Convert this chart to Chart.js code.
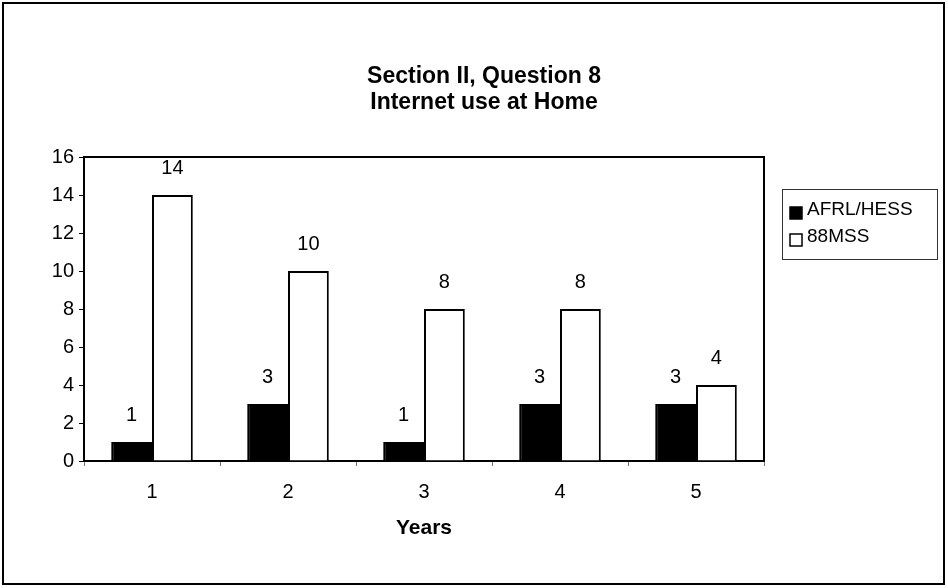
<!DOCTYPE html>
<html>
<head>
<meta charset="utf-8">
<script src="https://cdn.jsdelivr.net/npm/chart.js@4"></script>
<style>
  html, body { margin: 0; padding: 0; background: #fff; }
  #wrap { width: 948px; height: 588px; }
</style>
</head>
<body>
<div id="wrap"><canvas id="chart" width="948" height="588"></canvas></div>
<script>
const years = ["1", "2", "3", "4", "5"];
const afrlHess = [1, 3, 1, 3, 3];
const mss88 = [14, 10, 8, 8, 4];
const yTicks = [0, 2, 4, 6, 8, 10, 12, 14, 16];
const titleLines = ["Section II, Question 8", "Internet use at Home"];

const FONT = "'Liberation Sans', Arial, sans-serif";

// outer frame, title, plot border, value labels and boxed legend
const extras = {
    id: "extras",
    beforeDraw(chart) {
        const ctx = chart.ctx;
        ctx.save();
        ctx.fillStyle = "#fff";
        ctx.fillRect(0, 0, chart.width, chart.height);
        ctx.strokeStyle = "#000";
        ctx.lineWidth = 2;
        ctx.strokeRect(3, 3, chart.width - 7, chart.height - 7);

        // title sits centred on the whole frame, not on the plot
        ctx.fillStyle = "#000";
        ctx.font = "bold 23px " + FONT;
        ctx.textAlign = "center";
        ctx.textBaseline = "middle";
        titleLines.forEach((t, i) => {
            ctx.fillText(t, chart.width / 2 + 10, 77 + i * 26);
        });
        ctx.restore();
    },
    afterDatasetsDraw(chart) {
        const ctx = chart.ctx;
        const area = chart.chartArea;
        ctx.save();
        ctx.strokeStyle = "#000";
        ctx.lineWidth = 2;
        ctx.beginPath();
        ctx.moveTo(area.left, area.top);
        ctx.lineTo(area.right, area.top);
        ctx.lineTo(area.right, area.bottom);
        ctx.stroke();

        ctx.fillStyle = "#000";
        ctx.font = "20px " + FONT;
        ctx.textAlign = "center";
        ctx.textBaseline = "middle";
        chart.data.datasets.forEach((ds, i) => {
            chart.getDatasetMeta(i).data.forEach((bar, j) => {
                ctx.fillText(String(ds.data[j]), bar.x, bar.y - 27);
            });
        });

        // legend
        const lx = area.right + 18;
        const ly = area.top + 32;
        ctx.lineWidth = 1;
        ctx.strokeStyle = "#333";
        ctx.strokeRect(lx + 0.5, ly + 0.5, 155, 70);
        ctx.font = "19px " + FONT;
        ctx.textAlign = "left";
        chart.data.datasets.forEach((ds, i) => {
            const cy = ly + 21 + i * 27;
            ctx.fillStyle = ds.backgroundColor;
            ctx.fillRect(lx + 8, cy - 3, 12, 12);
            ctx.strokeStyle = "#000";
            ctx.lineWidth = 1.5;
            ctx.strokeRect(lx + 8, cy - 3, 12, 12);
            ctx.fillStyle = "#000";
            ctx.fillText(ds.label, lx + 25, cy);
        });
        ctx.restore();
    }
};

new Chart(document.getElementById("chart"), {
    type: "bar",
    data: {
        labels: years,
        datasets: [
            {
                label: "AFRL/HESS",
                data: afrlHess,
                backgroundColor: "#000",
                borderColor: "#000",
                borderWidth: 2,
            },
            {
                label: "88MSS",
                data: mss88,
                backgroundColor: "#fff",
                borderColor: "#000",
                borderWidth: 2,
            },
        ],
    },
    options: {
        responsive: false,
        animation: false,
        layout: {
            padding: { left: 10, right: 184, top: 157, bottom: 27 },
        },
        datasets: {
            bar: {
                barPercentage: 1,
                categoryPercentage: 0.6,
            },
        },
        plugins: {
            legend: { display: false },
            tooltip: { enabled: false },
            title: { display: false },
        },
        scales: {
            x: {
                afterFit: (scale) => { scale.height = 100; },
                grid: {
                    offset: true,
                    drawOnChartArea: false,
                    drawTicks: true,
                    tickLength: 5,
                    tickColor: "#777",
                },
                border: { display: true, color: "#000", width: 2 },
                ticks: {
                    color: "#000",
                    padding: 14,
                    font: { family: FONT, size: 20 },
                },
                title: {
                    display: true,
                    text: "Years",
                    color: "#000",
                    font: { family: FONT, size: 21, weight: "bold" },
                    padding: { top: 0, bottom: 20 },
                },
            },
            y: {
                min: 0,
                max: 16,
                afterFit: (scale) => { scale.width = 74; },
                afterBuildTicks: (scale) => {
                    scale.ticks = yTicks.map((v) => ({ value: v }));
                },
                grid: {
                    drawOnChartArea: false,
                    drawTicks: true,
                    tickLength: 5,
                    tickColor: "#000",
                },
                border: { display: true, color: "#000", width: 2 },
                ticks: {
                    color: "#000",
                    padding: 5,
                    font: { family: FONT, size: 20 },
                },
            },
        },
    },
    plugins: [extras],
});
</script>
</body>
</html>
